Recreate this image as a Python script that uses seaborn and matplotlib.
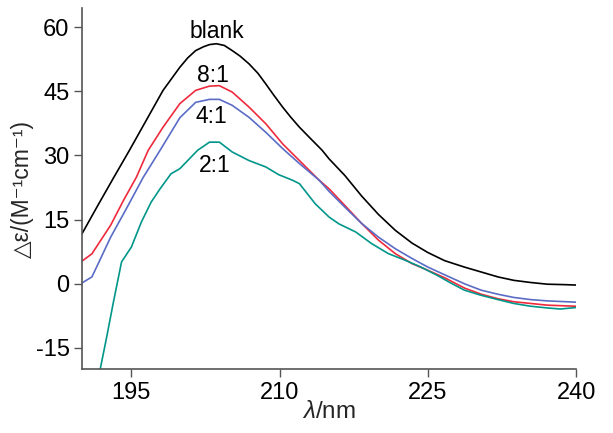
import matplotlib
matplotlib.use("Agg")
import matplotlib.pyplot as plt
import seaborn as sns
import pandas as pd

# ---- data ----
blank_x = [190.0, 191.5, 193.15, 194.8, 196.5, 198.2, 199.9, 200.7, 201.5, 202.3, 202.9, 203.6,
           204.4, 205.2, 206.0, 206.9, 207.8, 208.6, 209.4, 210.3, 211.1, 212.0, 213.1, 214.3,
           215.0, 216.6, 218.3, 220.0, 221.7, 223.4, 225.0, 226.7, 228.7, 230.4, 232.1, 233.7,
           235.4, 237.1, 238.8, 240.0]
blank_y = [11.7, 17.9, 24.6, 31.2, 38.2, 45.2, 50.6, 52.8, 54.5, 55.4, 55.9, 56.1,
           55.7, 54.5, 53.2, 51.4, 49.2, 46.7, 44.1, 41.3, 39.0, 36.6, 34.0, 31.2,
           29.2, 25.3, 20.5, 16.2, 12.5, 9.5, 7.3, 5.4, 3.9, 2.75, 1.6, 0.8,
           0.3, -0.1, -0.2, -0.3]

r8_x = [190.0, 191.0, 192.9, 194.2, 195.5, 196.7, 198.2, 199.9, 201.5, 202.9, 203.9, 205.2,
        206.9, 208.6, 210.3, 212.0, 214.0, 215.0, 216.6, 218.3, 220.0, 221.7, 223.4, 225.0,
        226.7, 228.7, 230.4, 232.1, 233.7, 235.4, 237.1, 240.0]
r8_y = [5.3, 7.0, 13.7, 19.5, 24.9, 31.2, 36.6, 42.1, 45.2, 46.2, 46.3, 44.8,
        41.3, 37.4, 32.7, 28.8, 24.2, 22.2, 18.3, 14.1, 10.2, 7.05, 4.7, 3.15,
        1.4, -1.0, -2.45, -3.5, -4.2, -4.6, -5.0, -5.25]

r4_x = [190.0, 191.0, 191.8, 192.9, 194.5, 196.2, 197.9, 199.9, 201.5, 202.9, 203.9, 205.2,
        206.9, 208.6, 210.3, 212.0, 214.0, 215.0, 216.6, 218.3, 220.0, 221.7, 223.4, 225.0,
        226.7, 228.7, 230.4, 232.1, 233.7, 235.4, 237.1, 240.0]
r4_y = [0.2, 1.6, 5.5, 10.9, 17.6, 24.9, 31.2, 38.8, 42.4, 43.1, 43.1, 41.7,
        38.9, 35.4, 31.6, 28.1, 24.2, 21.6, 17.9, 14.1, 10.9, 8.2, 5.9, 3.9,
        2.1, 0.0, -1.5, -2.45, -3.2, -3.7, -4.0, -4.3]

r2_x = [191.75, 192.5, 193.15, 194.0, 195.0, 196.0, 197.0, 197.9, 199.0, 199.9, 201.7, 202.9,
        203.9, 205.2, 206.9, 208.6, 209.9, 211.3, 212.0, 213.6, 215.0, 216.0, 217.7, 219.3,
        221.0, 222.7, 224.3, 226.0, 227.3, 228.7, 230.4, 232.1, 233.7, 235.4, 237.1, 238.4, 240.0]
r2_y = [-21.0, -12.4, -4.6, 5.1, 8.6, 14.4, 19.1, 22.2, 25.7, 26.9, 31.2, 33.1,
        33.1, 30.8, 28.8, 27.3, 25.5, 24.2, 23.4, 18.7, 15.6, 14.0, 12.1, 9.4,
        7.05, 5.5, 3.9, 1.9, 0.2, -1.5, -2.7, -3.7, -4.6, -5.25, -5.65, -5.9, -5.55]

series_names = ["blank", "8:1", "4:1", "2:1"]
series_colors = ["#000000", "#ee2a3c", "#5a6cc6", "#00968a"]
label_x = [203.6, 203.2, 203.1, 203.4]
label_y = [59.0, 48.7, 39.2, 27.7]

x_ticks = [195, 210, 225, 240]
y_ticks = [-15, 0, 15, 30, 45, 60]

# ---- figure ----
sns.set_theme(style="ticks")
plt.rcParams["font.family"] = ["Liberation Sans", "DejaVu Sans"]
plt.rcParams["axes.unicode_minus"] = False
plt.rcParams["mathtext.fontset"] = "custom"
plt.rcParams["mathtext.rm"] = "Liberation Sans"
plt.rcParams["mathtext.it"] = "Liberation Sans:italic"

frames = []
for name, xs, ys in zip(series_names, [blank_x, r8_x, r4_x, r2_x], [blank_y, r8_y, r4_y, r2_y]):
    frames.append(pd.DataFrame({"wl": xs, "de": ys, "sample": name}))
df = pd.concat(frames, ignore_index=True)

fig = plt.figure(figsize=(6.13, 4.33), dpi=100)
ax = fig.add_axes([0.1338, 0.147, 0.806, 0.834])

sns.lineplot(data=df, x="wl", y="de", hue="sample", hue_order=series_names,
             palette=dict(zip(series_names, series_colors)), sort=False,
             estimator=None, linewidth=1.2, legend=False, ax=ax)

for name, tx, ty in zip(series_names, label_x, label_y):
    ax.text(tx, ty, name, ha="center", va="center", fontsize=16.5, color="black")

ax.set_xlim(190, 240)
ax.set_ylim(-20, 64.4)
ax.set_xticks(x_ticks)
ax.set_yticks(y_ticks)
ax.tick_params(axis="both", direction="out", length=6, width=1, color="#555555",
               labelsize=17, labelcolor="black", pad=3)
for side in ["top", "right"]:
    ax.spines[side].set_visible(False)
for side in ["left", "bottom"]:
    ax.spines[side].set_color("#555555")
    ax.spines[side].set_linewidth(1.2)

ax.set_xlabel(r"$\it{\lambda}$/nm", fontsize=17.5)
ax.xaxis.set_label_coords(0.5, -0.088)
ax.set_ylabel("△ε/(M⁻¹cm⁻¹)", fontsize=16.5)
ax.yaxis.set_label_coords(-0.097, 0.5)

fig.savefig("out.png", dpi=100)
